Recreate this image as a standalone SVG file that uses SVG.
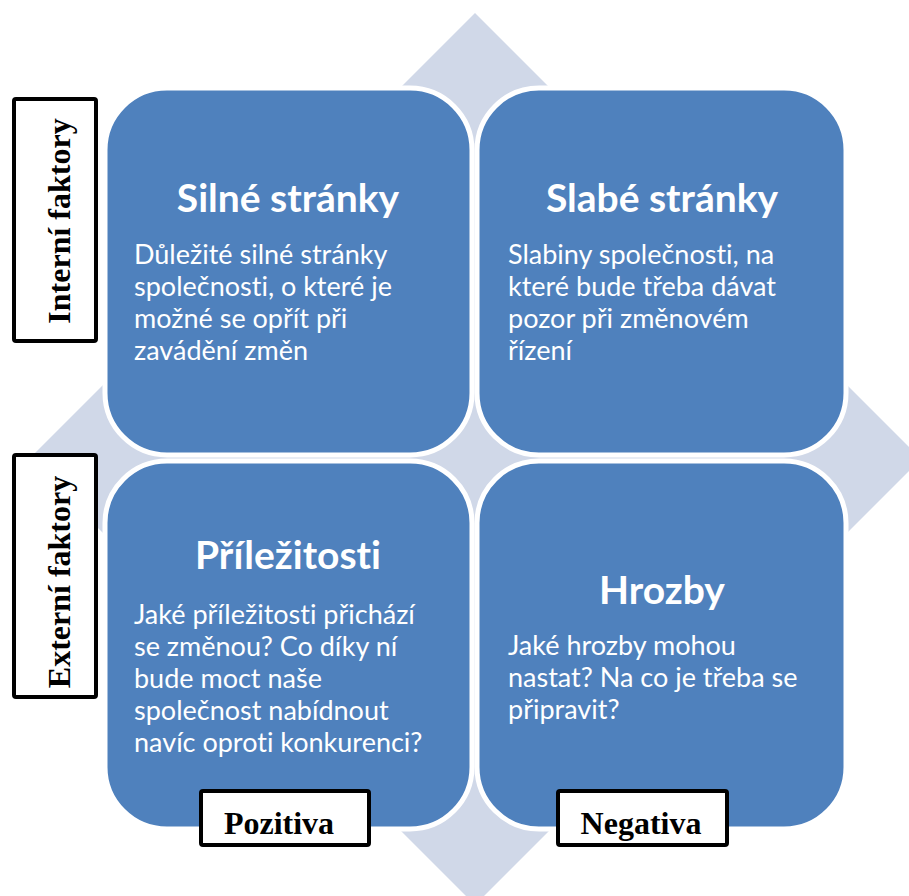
<svg xmlns="http://www.w3.org/2000/svg" width="909" height="896" viewBox="0 0 909 896">
<style>
.q{fill:#4f81bd;stroke:#ffffff;stroke-width:5}
.t{font-family:Lato,"Open Sans",sans-serif;font-weight:bold;font-size:39px;fill:#ffffff;text-anchor:middle;font-variant-ligatures:none}
.b{font-family:Lato,"Open Sans",sans-serif;font-size:27px;fill:#ffffff;font-variant-ligatures:none}
.lbl{fill:#ffffff;stroke:#000000;stroke-width:4}
.lt{font-family:"Liberation Serif","Times New Roman",serif;font-weight:bold;font-size:32px;fill:#000000;text-anchor:middle}
</style>
<rect width="909" height="896" fill="#ffffff"/>
<g id="diamond">
<polygon points="475,13 921,459 475,905 29,459" fill="#d0d8e8"/>
</g>
<g id="silne">
<rect class="q" x="105" y="88" width="367" height="367" rx="62"/>
<text class="t" x="288" y="212">Silné stránky</text>
<text class="b" x="134" y="264">Důležité silné stránky</text>
<text class="b" x="134" y="296">společnosti, o které je</text>
<text class="b" x="134" y="328">možné se opřít při</text>
<text class="b" x="134" y="360">zavádění změn</text>
</g>
<g id="slabe">
<rect class="q" x="477" y="88" width="369" height="367" rx="62"/>
<text class="t" x="662" y="212">Slabé stránky</text>
<text class="b" x="508" y="264">Slabiny společnosti, na</text>
<text class="b" x="508" y="296">které bude třeba dávat</text>
<text class="b" x="508" y="328">pozor při změnovém</text>
<text class="b" x="508" y="360">řízení</text>
</g>
<g id="prilezitosti">
<rect class="q" x="105" y="461" width="367" height="368" rx="62"/>
<text class="t" x="288" y="569">Příležitosti</text>
<text class="b" x="134" y="624">Jaké příležitosti přichází</text>
<text class="b" x="134" y="656">se změnou? Co díky ní</text>
<text class="b" x="134" y="688">bude moct naše</text>
<text class="b" x="134" y="720">společnost nabídnout</text>
<text class="b" x="134" y="752">navíc oproti konkurenci?</text>
</g>
<g id="hrozby">
<rect class="q" x="477" y="461" width="369" height="368" rx="62"/>
<text class="t" x="662" y="604">Hrozby</text>
<text class="b" x="508" y="655">Jaké hrozby mohou</text>
<text class="b" x="508" y="687">nastat? Na co je třeba se</text>
<text class="b" x="508" y="719">připravit?</text>
</g>
<g id="interni">
<rect class="lbl" x="14" y="99" width="82" height="242" rx="2"/>
<text class="lt" transform="translate(70,221) rotate(-90)">Interní faktory</text>
</g>
<g id="externi">
<rect class="lbl" x="14" y="455" width="82" height="242" rx="2"/>
<text class="lt" transform="translate(70,582) rotate(-90)">Externí faktory</text>
</g>
<g id="pozitiva">
<rect class="lbl" x="201" y="791" width="168" height="54" rx="2"/>
<text class="lt" x="279" y="834">Pozitiva</text>
</g>
<g id="negativa">
<rect class="lbl" x="558" y="791" width="169" height="54" rx="2"/>
<text class="lt" x="641" y="834">Negativa</text>
</g>
<g id="connectors"></g>
</svg>
